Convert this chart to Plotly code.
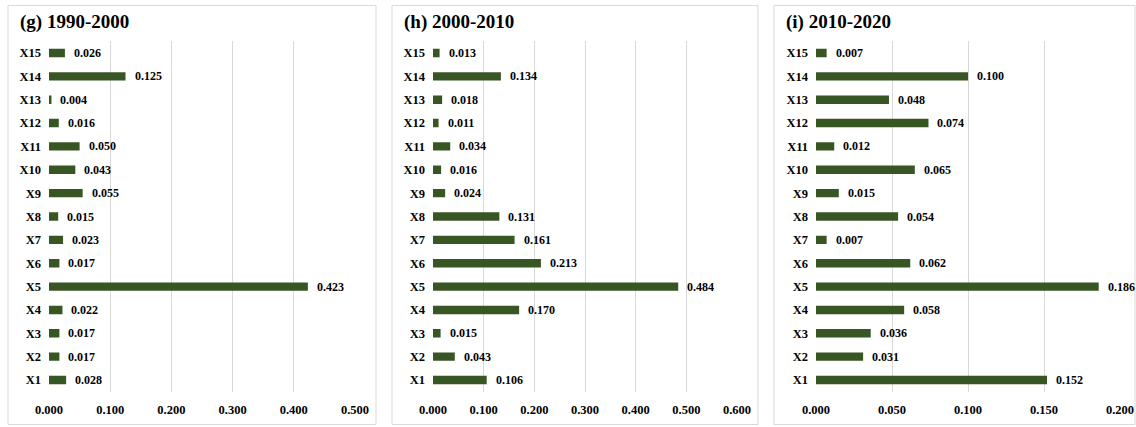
import plotly.graph_objects as go

factors = [f"X{i}" for i in range(1, 16)]

# q-statistics per factor (X1..X15) for each period
q_1990_2000 = [0.028, 0.017, 0.017, 0.022, 0.423, 0.017, 0.023, 0.015,
               0.055, 0.043, 0.050, 0.016, 0.004, 0.125, 0.026]
q_2000_2010 = [0.106, 0.043, 0.015, 0.170, 0.484, 0.213, 0.161, 0.131,
               0.024, 0.016, 0.034, 0.011, 0.018, 0.134, 0.013]
q_2010_2020 = [0.152, 0.031, 0.036, 0.058, 0.186, 0.062, 0.007, 0.054,
               0.015, 0.065, 0.012, 0.074, 0.048, 0.100, 0.007]

titles = ["(g) 1990-2000", "(h) 2000-2010", "(i) 2010-2020"]
x_ranges = [[0, 0.5], [0, 0.6], [0, 0.2]]
x_dticks = [0.1, 0.1, 0.05]

W, H = 1136, 427
BAR = "#375623"
GRID = "#d9d9d9"
FONT = "Liberation Serif"

# pixel layout of each panel: plot-area left/right, frame left/right
plot_px = [(49, 355), (433, 737), (816, 1120)]
frame_px = [(8, 376), (392, 758), (774, 1135)]
y_top_px, y_bot_px = 41.3, 391.7
frame_top, frame_bot = 5.5, 424.5

fig = go.Figure()
series = [q_1990_2000, q_2000_2010, q_2010_2020]

for i, (vals, title) in enumerate(zip(series, titles)):
    n = i + 1
    xa = "x" if n == 1 else f"x{n}"
    ya = "y" if n == 1 else f"y{n}"
    fig.add_trace(go.Bar(
        x=vals, y=factors, orientation="h", width=0.36,
        marker=dict(color=BAR, line=dict(width=0)),
        xaxis=xa, yaxis=ya, showlegend=False, hoverinfo="x+y",
    ))
    for f, v in zip(factors, vals):
        fig.add_annotation(
            x=v, y=f, xref=xa, yref=ya, text=f"{v:.3f}",
            showarrow=False, xanchor="left", yanchor="middle", xshift=8,
            borderpad=0,
            font=dict(family=FONT, size=12, color="#000000", weight="bold"),
        )
    x0, x1 = plot_px[i]
    dom = [x0 / W, x1 / W]
    fig.layout[f"xaxis{'' if n == 1 else n}"] = dict(
        domain=dom, range=x_ranges[i], dtick=x_dticks[i], tick0=0,
        tickformat=".3f", showgrid=True, gridcolor=GRID, gridwidth=1,
        zeroline=False, showline=False, ticks="", anchor=ya,
        ticklabelstandoff=9, automargin=False,
        tickfont=dict(family=FONT, size=12.5, color="#000000", weight="bold"),
        fixedrange=True,
    )
    fig.layout[f"yaxis{'' if n == 1 else n}"] = dict(
        domain=[1 - y_bot_px / H, 1 - y_top_px / H],
        categoryorder="array", categoryarray=factors,
        range=[-0.5, 14.5], showgrid=False, zeroline=False,
        showline=False, ticks="", anchor=xa, ticklabelstandoff=7,
        automargin=False,
        tickfont=dict(family=FONT, size=12.5, color="#000000", weight="bold"),
        fixedrange=True,
    )
    fl, fr = frame_px[i]
    fig.add_shape(type="rect", xref="paper", yref="paper",
                  x0=fl / W, x1=fr / W, y0=1 - frame_bot / H, y1=1 - frame_top / H,
                  line=dict(color=GRID, width=1), fillcolor="rgba(0,0,0,0)",
                  layer="below")
    fig.add_annotation(
        x=(fl + 10) / W, y=1 - 22 / H, xref="paper", yref="paper",
        text=f"<b>{title}</b>", showarrow=False, xanchor="left", yanchor="middle",
        font=dict(family=FONT, size=19, color="#000000"),
    )

fig.update_layout(
    width=W, height=H, margin=dict(l=0, r=0, t=0, b=0),
    paper_bgcolor="white", plot_bgcolor="white",
    font=dict(family=FONT, size=12, color="#000000"),
)

fig.write_html("out.html")
